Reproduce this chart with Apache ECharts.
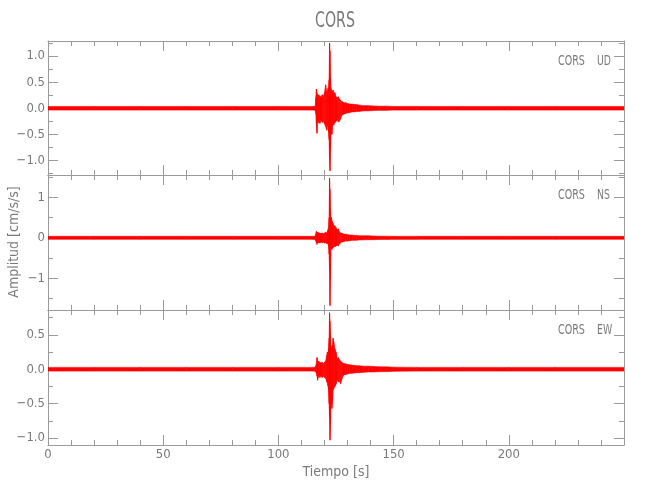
<!DOCTYPE html>
<html>
<head>
<meta charset="utf-8">
<script src="https://cdn.jsdelivr.net/npm/echarts@6/dist/echarts.min.js"></script>
<style>html,body{margin:0;padding:0;background:#fff}#c{width:650px;height:500px}</style>
</head>
<body>
<div id="c"></div>
<script>
// ---- data (upper / lower envelope of each trace, cm/s/s) ----
const timeSec = [
  0, 20, 40, 60, 80, 100, 115, 116,
  116.25, 116.5, 116.75, 117, 117.25, 117.5, 117.75, 118,
  118.5, 119, 119.5, 120, 120.5, 121, 121.25, 121.5, 121.75,
  122, 122.2, 122.4, 122.6, 122.8, 123, 123.25, 123.5, 123.75, 124,
  124.5, 125, 125.5, 126, 126.5, 127, 127.5, 128, 128.5, 129,
  130, 131, 132, 133, 134, 135, 137, 139, 141, 144, 147, 150,
  160, 180, 200, 220, 250
];
const udHigh = [
  0.035, 0.035, 0.035, 0.035, 0.035, 0.035, 0.035, 0.04,
  0.2, 0.37, 0.3, 0.25, 0.2, 0.26, 0.18, 0.24,
  0.2, 0.26, 0.22, 0.3, 0.45, 0.32, 0.28, 0.38, 0.4,
  0.55, 1.25, 1.1, 0.6, 0.4, 0.35, 0.32, 0.3, 0.35, 0.28,
  0.3, 0.22, 0.2, 0.22, 0.18, 0.15, 0.13, 0.12, 0.1, 0.11,
  0.09, 0.08, 0.08, 0.07, 0.07, 0.06, 0.05, 0.05, 0.045, 0.04, 0.04, 0.035,
  0.035, 0.035, 0.035, 0.035, 0.035
];
const udLow = [
  -0.035, -0.035, -0.035, -0.035, -0.035, -0.035, -0.035, -0.04,
  -0.1, -0.3, -0.48, -0.25, -0.22, -0.28, -0.2, -0.29,
  -0.22, -0.27, -0.25, -0.3, -0.35, -0.42, -0.3, -0.35, -0.45,
  -0.6, -1.0, -1.2, -0.8, -0.5, -0.45, -0.5, -0.35, -0.3, -0.32,
  -0.28, -0.25, -0.22, -0.26, -0.25, -0.2, -0.14, -0.12, -0.11, -0.1,
  -0.09, -0.08, -0.07, -0.07, -0.06, -0.06, -0.05, -0.05, -0.045, -0.04, -0.04, -0.035,
  -0.035, -0.035, -0.035, -0.035, -0.035
];
const nsHigh = [
  0.037, 0.037, 0.037, 0.037, 0.037, 0.037, 0.037, 0.04,
  0.1, 0.16, 0.12, 0.14, 0.1, 0.13, 0.1, 0.12,
  0.1, 0.12, 0.1, 0.12, 0.14, 0.12, 0.15, 0.2, 0.25,
  0.5, 1.47, 1.2, 0.7, 0.5, 0.5, 0.42, 0.38, 0.35, 0.3,
  0.3, 0.25, 0.2, 0.22, 0.15, 0.12, 0.12, 0.1, 0.09, 0.09,
  0.08, 0.07, 0.07, 0.06, 0.06, 0.05, 0.05, 0.05, 0.045, 0.04, 0.04, 0.037,
  0.037, 0.037, 0.037, 0.037, 0.037
];
const nsLow = [
  -0.037, -0.037, -0.037, -0.037, -0.037, -0.037, -0.037, -0.04,
  -0.08, -0.12, -0.16, -0.12, -0.1, -0.12, -0.1, -0.13,
  -0.1, -0.12, -0.11, -0.13, -0.12, -0.14, -0.13, -0.15, -0.2,
  -0.4, -0.8, -1.67, -1.0, -0.3, -0.25, -0.28, -0.22, -0.25, -0.2,
  -0.22, -0.2, -0.18, -0.2, -0.15, -0.13, -0.1, -0.1, -0.09, -0.08,
  -0.08, -0.07, -0.06, -0.06, -0.06, -0.05, -0.05, -0.045, -0.045, -0.04, -0.04, -0.037,
  -0.037, -0.037, -0.037, -0.037, -0.037
];
const ewHigh = [
  0.027, 0.027, 0.027, 0.027, 0.027, 0.027, 0.027, 0.03,
  0.05, 0.08, 0.17, 0.12, 0.1, 0.12, 0.08, 0.1,
  0.09, 0.1, 0.08, 0.1, 0.12, 0.2, 0.25, 0.22, 0.3,
  0.45, 0.82, 0.7, 0.5, 0.35, 0.3, 0.3, 0.35, 0.45, 0.4,
  0.3, 0.25, 0.15, 0.17, 0.14, 0.12, 0.1, 0.09, 0.08, 0.08,
  0.07, 0.065, 0.06, 0.055, 0.05, 0.05, 0.045, 0.045, 0.04, 0.035, 0.035, 0.03,
  0.027, 0.027, 0.027, 0.027, 0.027
];
const ewLow = [
  -0.027, -0.027, -0.027, -0.027, -0.027, -0.027, -0.027, -0.03,
  -0.04, -0.06, -0.1, -0.16, -0.12, -0.1, -0.09, -0.12,
  -0.1, -0.12, -0.1, -0.12, -0.13, -0.18, -0.2, -0.24, -0.3,
  -0.5, -0.7, -1.03, -0.8, -0.5, -0.5, -0.57, -0.45, -0.3, -0.28,
  -0.25, -0.22, -0.15, -0.18, -0.18, -0.21, -0.15, -0.1, -0.08, -0.08,
  -0.07, -0.06, -0.06, -0.055, -0.05, -0.05, -0.045, -0.04, -0.04, -0.035, -0.035, -0.03,
  -0.027, -0.027, -0.027, -0.027, -0.027
];
// axis ranges and tick labels
const panelNames = ['UD', 'NS', 'EW'];
const stationName = 'CORS';
const yRanges = [[-1.28, 1.29], [-1.78, 1.55], [-1.10, 0.86]];
const yMajorTicks = [[-1.0, -0.5, 0, 0.5, 1.0], [-1, 0, 1], [-1.0, -0.5, 0, 0.5]];
const yMinorTicks = [[-1.25, -0.75, -0.25, 0.25, 0.75, 1.25], [-1.5, -0.5, 0.5, 1.5], [-0.75, -0.25, 0.25, 0.75]];
const yDecimals = [1, 0, 1];
const xTickLabels = [0, 50, 100, 150, 200];

// ---- styling ----
const FONT = '"Liberation Sans Narrow","DejaVu Sans Condensed","Liberation Sans",sans-serif';
const AX = '#9a9a9a';
const TXT = '#7a7a7a';
const RED = '#ff0000';
const gridBoxes = [{top: 41, height: 134}, {top: 175, height: 135}, {top: 310, height: 135}];
const traces = [[udHigh, udLow], [nsHigh, nsLow], [ewHigh, ewLow]];

const grid = [], xAxis = [], yAxis = [], series = [], graphic = [];
const lineStyle = {color: AX, width: 1};

// one quadrilateral between consecutive envelope samples, placed through the axes' scales
function renderBand(params, api) {
  const k = params.dataIndexInside;
  if (k >= params.dataInsideLength - 1) return null;
  const p = [
    api.coord([api.value(0, k), api.value(1, k)]),
    api.coord([api.value(0, k + 1), api.value(1, k + 1)]),
    api.coord([api.value(0, k + 1), api.value(2, k + 1)]),
    api.coord([api.value(0, k), api.value(2, k)])
  ];
  return {
    type: 'polygon',
    shape: {points: p},
    style: {fill: RED, stroke: RED, lineWidth: 0.6},
    silent: true
  };
}

gridBoxes.forEach((g, i) => {
  grid.push({left: 48, right: 26, top: g.top, height: g.height, containLabel: false});
  ['bottom', 'top'].forEach(pos => {
    xAxis.push({
      type: 'value', gridIndex: i, min: 0, max: 250, interval: 50, position: pos,
      axisLine: {show: true, onZero: false, lineStyle},
      axisTick: {show: true, inside: true, length: 10, lineStyle},
      minorTick: {show: true, splitNumber: 5, length: 5, lineStyle},
      splitLine: {show: false}, minorSplitLine: {show: false},
      axisLabel: {
        show: pos === 'bottom' && i === 2, customValues: xTickLabels,
        color: TXT, fontFamily: FONT, fontSize: 13, margin: 3
      }
    });
  });
  const dec = yDecimals[i];
  ['left', 'right'].forEach(pos => {
    yAxis.push({
      type: 'value', gridIndex: i, min: yRanges[i][0], max: yRanges[i][1], position: pos,
      axisLine: {show: true, onZero: false, lineStyle},
      axisTick: {show: true, inside: true, length: 10, lineStyle, customValues: yMajorTicks[i]},
      splitLine: {show: false},
      axisLabel: {
        show: pos === 'left', customValues: yMajorTicks[i], color: TXT, fontFamily: FONT,
        fontSize: 13, margin: 3,
        formatter: v => (v < 0 ? '\u2212' : '') + Math.abs(v).toFixed(dec)
      }
    });
    yAxis.push({
      type: 'value', gridIndex: i, min: yRanges[i][0], max: yRanges[i][1], position: pos,
      axisLine: {show: false, onZero: false},
      axisTick: {show: true, inside: true, length: 5, lineStyle, customValues: yMinorTicks[i]},
      splitLine: {show: false},
      axisLabel: {show: false}
    });
  });
  const [hi, lo] = traces[i];
  series.push({
    type: 'custom', coordinateSystem: 'cartesian2d',
    xAxisIndex: 2 * i, yAxisIndex: 4 * i,
    data: timeSec.map((t, k) => [t, hi[k], lo[k]]),
    encode: {x: 0, y: [1, 2]},
    renderItem: renderBand,
    clip: true, silent: true, z: 3
  });
  const cy = g.top + 20;
  graphic.push({type: 'text', x: 558, y: cy, scaleX: 0.76,
    style: {text: stationName, fontFamily: FONT, fontSize: 14, fill: TXT, align: 'left', verticalAlign: 'middle'}});
  graphic.push({type: 'text', x: 597, y: cy, scaleX: 0.74,
    style: {text: panelNames[i], fontFamily: FONT, fontSize: 14, fill: TXT, align: 'left', verticalAlign: 'middle'}});
});

graphic.push({type: 'text', x: 335, y: 22, scaleX: 0.75,
  style: {text: stationName, fontFamily: FONT, fontSize: 21, fill: TXT, align: 'center', verticalAlign: 'middle'}});
graphic.push({type: 'text', x: 14, y: 242, rotation: Math.PI / 2,
  style: {text: 'Amplitud [cm/s/s]', fontFamily: FONT, fontSize: 14, fill: TXT, align: 'center', verticalAlign: 'middle'}});
graphic.push({type: 'text', x: 336, y: 472,
  style: {text: 'Tiempo [s]', fontFamily: FONT, fontSize: 14, fill: TXT, align: 'center', verticalAlign: 'middle'}});

const chart = echarts.init(document.getElementById('c'), null, {renderer: 'canvas'});
chart.setOption({
  animation: false,
  backgroundColor: '#ffffff',
  grid, xAxis, yAxis, series, graphic
});
</script>
</body>
</html>
